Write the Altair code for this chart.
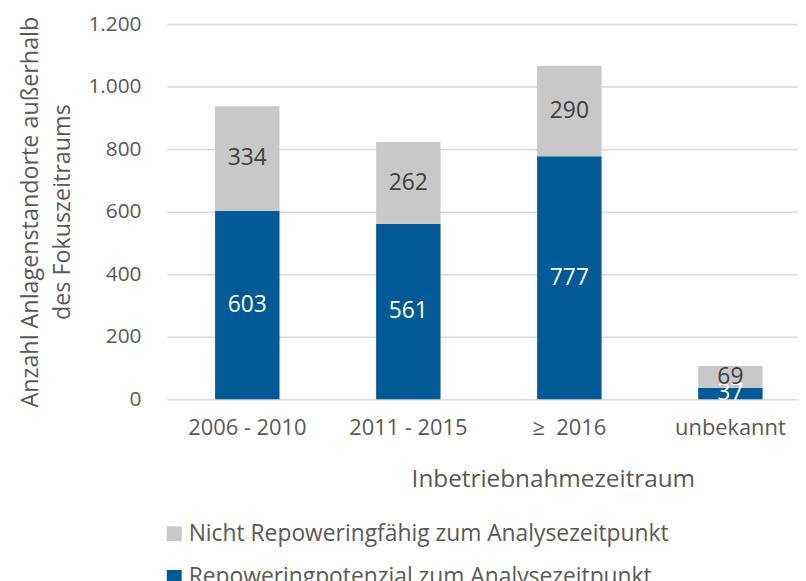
import altair as alt
import pandas as pd

categories = ["2006 - 2010", "2011 - 2015", "≥ \u00a02016", "unbekannt"]
repowering = [603, 561, 777, 37]
nicht_faehig = [334, 262, 290, 69]
series_names = ["Nicht Repoweringfähig zum Analysezeitpunkt",
                "Repoweringpotenzial zum Analysezeitpunkt"]
series_colors = ["#C8C8C8", "#005A96"]
label_colors = ["#404040", "#FFFFFF"]
y_ticks = [0, 200, 400, 600, 800, 1000, 1200]

rows = []
for c, r, n in zip(categories, repowering, nicht_faehig):
    rows.append({"cat": c, "series": series_names[1], "value": r, "ord": 0, "tc": label_colors[1]})
    rows.append({"cat": c, "series": series_names[0], "value": n, "ord": 1, "tc": label_colors[0]})
df = pd.DataFrame(rows)

FONT = "Open Sans"
GREY_TXT = "#595959"

xscale = alt.Scale(range=[0, 649], paddingInner=0.6, paddingOuter=0.3)

base = alt.Chart(df).transform_stack(
    stack="value", groupby=["cat"], as_=["y0", "y1"], sort=[alt.SortField("ord")]
).transform_calculate(mid="(datum.y0 + datum.y1) / 2")

x_enc = alt.X(
    "cat:N", sort=categories, scale=xscale,
    axis=alt.Axis(
        title="Inbetriebnahmezeitraum", labelAngle=0, labelFontSize=22,
        labelFont=FONT, labelColor=GREY_TXT, labelPadding=19, ticks=False,
        domain=False, titleFontSize=24.5, titleFont=FONT, titleColor=GREY_TXT,
        titleFontWeight="normal", titleX=389, titleY=88, titleAlign="center",
        titleBaseline="alphabetic", labelLimit=0,
    ),
)

bars = base.mark_bar().encode(
    x=x_enc,
    y=alt.Y(
        "y0:Q", scale=alt.Scale(domain=[0, 1200], nice=False),
        axis=alt.Axis(
            values=y_ticks,
            labelExpr="replace(format(datum.value, ','), ',', '.')",
            title=["Anzahl Anlagenstandorte außerhalb", "des Fokuszeitraums"],
            titleFontSize=23.5, titleFont=FONT, titleColor=GREY_TXT,
            titleFontWeight="normal", titleLineHeight=33, titlePadding=13,
            labelFontSize=21, labelFont=FONT, labelColor=GREY_TXT,
            labelPadding=26, ticks=False, domain=False,
            gridColor="#D9D9D9", gridWidth=1.5, titleLimit=0,
        ),
    ),
    y2="y1:Q",
    color=alt.Color(
        "series:N",
        scale=alt.Scale(domain=series_names, range=series_colors),
        legend=alt.Legend(
            title=None, orient="none", legendX=-4, legendY=502,
            labelFontSize=23, labelFont=FONT, labelColor=GREY_TXT,
            symbolType="square", symbolSize=225, symbolStrokeWidth=0,
            rowPadding=20, labelOffset=3, padding=0, direction="vertical",
            labelLimit=0,
        ),
    ),
)

labels = base.mark_text(fontSize=23, font=FONT).encode(
    x=alt.X("cat:N", sort=categories, scale=xscale),
    y=alt.Y("mid:Q"),
    text=alt.Text("value:Q"),
    color=alt.Color("tc:N", scale=None),
)

chart = alt.layer(bars, labels).properties(
    width=636, height=378,
    padding={"left": 160, "top": 14, "right": 0, "bottom": 190},
    autosize="none",
).configure_view(stroke=None)

chart.save("out.html", embed_options={"renderer": "svg", "actions": False})
